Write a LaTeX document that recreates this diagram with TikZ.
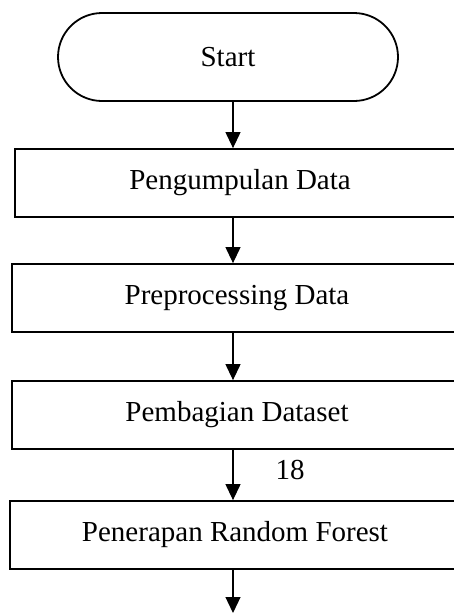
\documentclass[tikz,border=0pt]{standalone}
\usepackage{fontspec}
\setmainfont{Liberation Serif}
\usetikzlibrary{arrows.meta,shapes.misc}
\begin{document}
\begin{tikzpicture}[x=1pt,y=-1pt,
  every node/.style={font=\fontsize{29}{34}\selectfont},
  term/.style={draw, line width=1.8pt, rounded rectangle, minimum width=340pt, minimum height=88pt, inner sep=0pt},
  stepbox/.style={draw, line width=1.8pt, rectangle, minimum width=450pt, minimum height=68pt, inner sep=0pt},
  arr/.style={line width=1.2pt, -{Triangle[width=15pt,length=16pt]}},
  lbl/.style={inner sep=0pt}
]
\clip (0,0) rectangle (454,614);
\coordinate (ax) at (233,0);
\node[term] (start) at (228,57) {Start};
\node[stepbox] (b1) at (240,183) {Pengumpulan Data};
\node[stepbox] (b2) at (237,298) {Preprocessing Data};
\node[stepbox] (b3) at (237,415) {Pembagian Dataset};
\node[stepbox] (b4) at (235,535) {Penerapan Random Forest};
\coordinate (end) at (233,613);
\draw[arr] (start.south -| ax) -- (b1.north -| ax);
\draw[arr] (b1.south -| ax) -- (b2.north -| ax);
\draw[arr] (b2.south -| ax) -- (b3.north -| ax);
\draw[arr] (b3.south -| ax) -- (b4.north -| ax) node[lbl, pos=0.4, right=42pt] (n18) {18};
\draw[arr] (b4.south -| ax) -- (end);
\end{tikzpicture}
\end{document}
